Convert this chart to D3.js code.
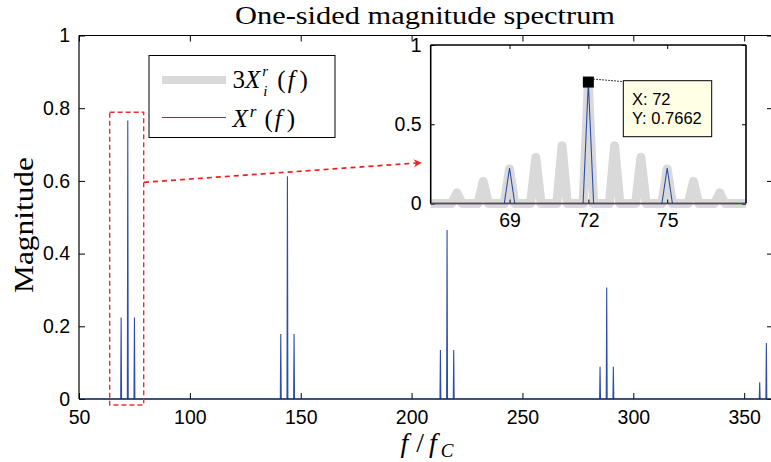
<!DOCTYPE html>
<html><head><meta charset="utf-8">
<script src="https://cdn.jsdelivr.net/npm/d3@7"></script>
<style>body{margin:0;background:#fff;} svg{display:block;}</style>
</head><body>
<svg id="c" width="771" height="462"></svg>
<script>
// ---- data ----
const peakFreqs = [69, 72, 75, 141, 144, 147, 213, 216, 219, 285, 288, 291, 357, 360];
const peakMags  = [0.224, 0.7662, 0.224, 0.179, 0.613, 0.179, 0.135, 0.465, 0.135, 0.089, 0.307, 0.089, 0.046, 0.154];
const greyFreqs = [67, 68, 69, 70, 71, 72, 73, 74, 75, 76, 77];
const greyMags  = [0.067, 0.140, 0.218, 0.292, 0.365, 0.7662, 0.365, 0.292, 0.218, 0.140, 0.067];
const mainXTicks = [50, 100, 150, 200, 250, 300, 350];
const mainYTicks = [0, 0.2, 0.4, 0.6, 0.8, 1];
const insetXTicks = [69, 72, 75];
const insetYTicks = [0, 0.5, 1];
const halfWidth = 0.2; // sampling half-width of each spectral line

const svg = d3.select("#c");
const blue = "#2c4ea8";
const sans = "'Liberation Sans', Arial, sans-serif";
const serif = "'Liberation Serif', 'Times New Roman', serif";

function spectrumPoints(freqs, mags, lo, hi) {
  const pts = [[lo, 0]];
  freqs.forEach((f, i) => {
    if (f < lo - 1 || f > hi + 1) return;
    pts.push([f - halfWidth, 0], [f, mags[i]], [f + halfWidth, 0]);
  });
  pts.push([hi, 0]);
  return pts;
}

// ---- main axes ----
const M = {l: 79, r: 773, t: 35.5, b: 399};
const x = d3.scaleLinear().domain([50, 363]).range([M.l, M.r]);
const y = d3.scaleLinear().domain([0, 1]).range([M.b, M.t]);

const line = d3.line().x(d => x(d[0])).y(d => y(d[1]));
svg.append("path").attr("d", line(spectrumPoints(peakFreqs, peakMags, 50, 363)))
  .attr("fill", "none").attr("stroke", blue).attr("stroke-width", 1.1);

const gB = svg.append("g").attr("transform", `translate(0,${M.b})`)
  .call(d3.axisBottom(x).tickValues(mainXTicks).tickSize(-6).tickPadding(11).tickFormat(d3.format("d")));
const gT = svg.append("g").attr("transform", `translate(0,${M.t})`)
  .call(d3.axisTop(x).tickValues(mainXTicks).tickSize(-6).tickFormat(""));
const gL = svg.append("g").attr("transform", `translate(${M.l},0)`)
  .call(d3.axisLeft(y).tickValues(mainYTicks).tickSize(-6).tickPadding(9).tickFormat(d => d === 0 || d === 1 ? d3.format("d")(d) : d3.format(".1f")(d)));
const gR = svg.append("g").attr("transform", `translate(${M.r},0)`)
  .call(d3.axisRight(y).tickValues(mainYTicks).tickSize(-6).tickFormat(""));
[gB, gT, gL, gR].forEach(g => {
  g.select(".domain").attr("stroke", "#000").attr("stroke-width", 1.2);
  g.selectAll(".tick line").attr("stroke", "#000");
  g.selectAll("text").attr("font-family", sans).attr("font-size", 19.5).attr("fill", "#000");
});
gB.selectAll(".domain").attr("d", `M${M.l},0H${M.r}`);
gT.selectAll(".domain").attr("d", `M${M.l},0H${M.r}`);
gL.selectAll(".domain").attr("d", `M0,${M.b}V${M.t}`);
gR.selectAll(".domain").attr("d", `M0,${M.b}V${M.t}`);
svg.append("line").attr("x1", M.l).attr("x2", M.r).attr("y1", y(0)).attr("y2", y(0))
  .attr("stroke", blue).attr("stroke-width", 1).attr("opacity", 0.6);

// title & labels
svg.append("text").attr("x", 425).attr("y", 24).attr("text-anchor", "middle")
  .attr("font-family", serif).attr("font-size", 26)
  .attr("textLength", 380).attr("lengthAdjust", "spacingAndGlyphs")
  .text("One-sided magnitude spectrum");
svg.append("text").attr("transform", "translate(33,225) rotate(-90)").attr("text-anchor", "middle")
  .attr("font-family", serif).attr("font-size", 27)
  .attr("textLength", 136).attr("lengthAdjust", "spacingAndGlyphs")
  .text("Magnitude");
const xl = svg.append("text").attr("x", 427).attr("y", 452).attr("text-anchor", "middle")
  .attr("font-family", serif).attr("font-size", 28);
xl.append("tspan").attr("font-style", "italic").text("f");
xl.append("tspan").attr("dx", 8).text("/");
xl.append("tspan").attr("dx", 5).attr("font-style", "italic").text("f");
xl.append("tspan").attr("dx", 4).attr("dy", 5).attr("font-size", 19).attr("font-style", "italic").text("C");

// legend
const lg = svg.append("g");
lg.append("rect").attr("x", 149).attr("y", 55.5).attr("width", 186).attr("height", 82)
  .attr("fill", "#fff").attr("stroke", "#000").attr("stroke-width", 1);
lg.append("line").attr("x1", 162).attr("x2", 226).attr("y1", 80).attr("y2", 80)
  .attr("stroke", "#d9d9d9").attr("stroke-width", 8);
lg.append("line").attr("x1", 162).attr("x2", 226).attr("y1", 117.5).attr("y2", 117.5)
  .attr("stroke", blue).attr("stroke-width", 1);
const t1 = lg.append("text").attr("x", 232.5).attr("y", 88).attr("font-family", serif).attr("font-size", 25);
t1.append("tspan").text("3");
t1.append("tspan").attr("font-style", "italic").text("X");
t1.append("tspan").attr("dx", 2).attr("dy", -12).attr("font-size", 15).attr("font-style", "italic").text("r");
t1.append("tspan").attr("dx", -5).attr("dy", 20).attr("font-size", 15).attr("font-style", "italic").text("i");
t1.append("tspan").attr("dx", 10).attr("dy", -8).text("(");
t1.append("tspan").attr("dx", 2).attr("font-style", "italic").text("f");
t1.append("tspan").attr("dx", 5).text(")");
const t2 = lg.append("text").attr("x", 232.5).attr("y", 127).attr("font-family", serif).attr("font-size", 25);
t2.append("tspan").attr("font-style", "italic").text("X");
t2.append("tspan").attr("dx", 2).attr("dy", -10).attr("font-size", 17).attr("font-style", "italic").text("r");
t2.append("tspan").attr("dx", 8).attr("dy", 10).text("(");
t2.append("tspan").attr("dx", 2).attr("font-style", "italic").text("f");
t2.append("tspan").attr("dx", 5).text(")");

// red dashed zoom box and arrow
svg.append("defs").append("marker").attr("id", "ah").attr("viewBox", "0 0 10 10")
  .attr("refX", 9).attr("refY", 5).attr("markerWidth", 13).attr("markerHeight", 8)
  .attr("markerUnits", "userSpaceOnUse").attr("orient", "auto")
  .append("path").attr("d", "M0,0L10,5L0,10L3,5Z").attr("fill", "#f02020");
svg.append("line").attr("x1", 144).attr("y1", 182.3).attr("x2", 421).attr("y2", 162.7)
  .attr("stroke", "#f02020").attr("stroke-width", 1.7).attr("stroke-dasharray", "5,4").attr("marker-end", "url(#ah)");
svg.append("rect").attr("x", 109.7).attr("y", 112.3).attr("width", 34).attr("height", 292.7)
  .attr("fill", "none").attr("stroke", "#f03030").attr("stroke-width", 1.4).attr("stroke-dasharray", "5,3");

// ---- inset ----
const I = {l: 430.7, r: 746, t: 45, b: 203.5};
const xi = d3.scaleLinear().domain([66, 78]).range([I.l, I.r]);
const yi = d3.scaleLinear().domain([0, 1]).range([I.b, I.t]);
svg.append("rect").attr("x", I.l).attr("y", I.t).attr("width", I.r - I.l).attr("height", I.b - I.t).attr("fill", "#fff");
svg.append("clipPath").attr("id", "ic").append("rect")
  .attr("x", I.l).attr("y", I.t - 10).attr("width", I.r - I.l).attr("height", I.b - I.t + 20);
const gi = svg.append("g").attr("clip-path", "url(#ic)");
const linei = d3.line().x(d => xi(d[0])).y(d => yi(d[1]));
gi.append("path").attr("d", linei(spectrumPoints(greyFreqs, greyMags, 65, 79)))
  .attr("fill", "none").attr("stroke", "#d9d9d9").attr("stroke-width", 9)
  .attr("stroke-linejoin", "round");
gi.append("path").attr("d", linei(spectrumPoints(peakFreqs, peakMags, 65, 79)))
  .attr("fill", "none").attr("stroke", blue).attr("stroke-width", 1.1);

const iB = svg.append("g").attr("transform", `translate(0,${I.b})`)
  .call(d3.axisBottom(xi).tickValues(insetXTicks).tickSize(-4).tickPadding(10).tickFormat(d3.format("d")));
const iT = svg.append("g").attr("transform", `translate(0,${I.t})`)
  .call(d3.axisTop(xi).tickValues(insetXTicks).tickSize(-4).tickFormat(""));
const iL = svg.append("g").attr("transform", `translate(${I.l},0)`)
  .call(d3.axisLeft(yi).tickValues(insetYTicks).tickSize(-4).tickPadding(9).tickFormat(d => d === 0.5 ? "0.5" : d3.format("d")(d)));
const iR = svg.append("g").attr("transform", `translate(${I.r},0)`)
  .call(d3.axisRight(yi).tickValues(insetYTicks).tickSize(-4).tickFormat(""));
[iB, iT, iL, iR].forEach(g => {
  g.select(".domain").attr("stroke", "#000").attr("stroke-width", 1.6);
  g.selectAll(".tick line").attr("stroke", "#000");
  g.selectAll("text").attr("font-family", sans).attr("font-size", 19.5).attr("fill", "#000");
});
iB.selectAll(".domain").attr("d", `M${I.l},0H${I.r}`);
iT.selectAll(".domain").attr("d", `M${I.l},0H${I.r}`);
iL.selectAll(".domain").attr("d", `M0,${I.b}V${I.t}`);
iR.selectAll(".domain").attr("d", `M0,${I.b}V${I.t}`);
svg.append("line").attr("x1", I.l).attr("x2", I.r).attr("y1", yi(0)).attr("y2", yi(0))
  .attr("stroke", blue).attr("stroke-width", 1.2);

// datatip
const tipF = peakFreqs[1], tipM = peakMags[1];
const mx = xi(tipF), my = yi(tipM);
svg.append("line").attr("x1", mx + 5).attr("y1", my - 3).attr("x2", 622).attr("y2", 81.5)
  .attr("stroke", "#000").attr("stroke-width", 1).attr("stroke-dasharray", "1.5,1.5");
svg.append("rect").attr("x", mx - 5.5).attr("y", my - 5.5).attr("width", 11).attr("height", 11).attr("fill", "#000");
svg.append("rect").attr("x", 623.3).attr("y", 80.7).attr("width", 88.4).attr("height", 56)
  .attr("fill", "#ffffe6").attr("stroke", "#000").attr("stroke-width", 1);
svg.append("text").attr("x", 632).attr("y", 105).attr("font-family", sans).attr("font-size", 16.5).text("X: " + tipF);
svg.append("text").attr("x", 632).attr("y", 124).attr("font-family", sans).attr("font-size", 16.5).text("Y: " + tipM);
</script>
</body></html>
